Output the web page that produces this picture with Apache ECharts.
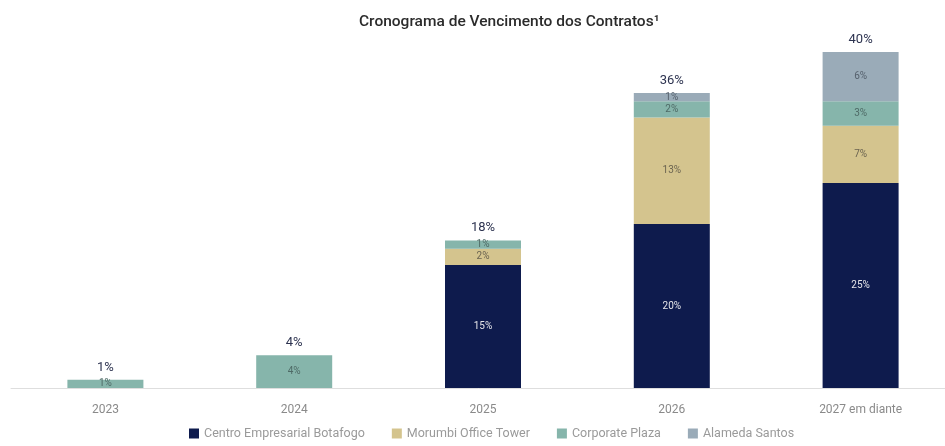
<!DOCTYPE html>
<html>
<head>
<meta charset="utf-8">
<script src="https://cdn.jsdelivr.net/npm/echarts@6/dist/echarts.min.js"></script>
<style>
html,body{margin:0;padding:0;background:#fff;}
#chart{width:945px;height:446px;}
</style>
</head>
<body>
<div id="chart"></div>
<script>
// dados do cronograma
var anos = ['2023', '2024', '2025', '2026', '2027 em diante'];
var botafogo = [0, 0, 15, 20, 25];
var morumbi = [0, 0, 2, 13, 7];
var corporate = [1, 4, 1, 2, 3];
var alameda = [0, 0, 0, 1, 6];
var totais = ['1%', '4%', '18%', '36%', '40%'];
var vazio = [0, 0, 0, 0, 0];

var cores = ['#0e1b4d', '#d4c48e', '#86b5ab', '#9aabb8'];

var chart = echarts.init(document.getElementById('chart'));

function serie(nome, dados, cor, corTexto) {
    return {
        name: nome,
        type: 'bar',
        stack: 'total',
        barWidth: 76,
        data: dados,
        itemStyle: {color: cor},
        label: {
            show: true,
            position: 'inside',
            fontSize: 10,
            color: corTexto,
            fontFamily: 'Roboto',
            formatter: function (p) {
                return p.value ? p.value + '%' : '';
            }
        }
    };
}

var option = {
    backgroundColor: '#fff',
    animation: false,
    title: {
        text: 'Cronograma de Vencimento dos Contratos¹',
        left: 354,
        top: 9,
        textStyle: {
            fontFamily: 'Roboto',
            fontSize: 15.5,
            fontWeight: 500,
            color: '#2b2b2b'
        }
    },
    legend: {
        data: ['Centro Empresarial Botafogo', 'Morumbi Office Tower', 'Corporate Plaza', 'Alameda Santos'],
        bottom: 1,
        left: 184,
        itemWidth: 10,
        itemHeight: 10,
        itemGap: 27,
        icon: 'rect',
        textStyle: {fontFamily: 'Roboto', fontSize: 12.5, color: '#9a9a9a'}
    },
    grid: {left: 11, width: 944, top: 52, bottom: 58, containLabel: false, outerBoundsMode: 'none'},
    xAxis: {
        type: 'category',
        data: anos,
        axisLine: {lineStyle: {color: '#dedede'}},
        axisTick: {show: false},
        axisLabel: {margin: 16, fontFamily: 'Roboto', fontSize: 12, color: '#8a8a8a'}
    },
    yAxis: {
        type: 'value',
        min: 0,
        max: 41,
        show: false,
        splitLine: {show: false}
    },
    series: [
        serie('Centro Empresarial Botafogo', botafogo, cores[0], '#e6e6ea'),
        serie('Morumbi Office Tower', morumbi, cores[1], '#6b6450'),
        serie('Corporate Plaza', corporate, cores[2], '#4e6a66'),
        serie('Alameda Santos', alameda, cores[3], '#55606c'),
        {
            name: 'total',
            type: 'bar',
            stack: 'total',
            barWidth: 76,
            data: vazio,
            itemStyle: {color: 'transparent'},
            label: {
                show: true,
                position: 'top',
                distance: 6,
                fontFamily: 'Roboto',
                fontSize: 13,
                color: '#2d3350',
                formatter: function (p) {
                    return totais[p.dataIndex];
                }
            }
        }
    ]
};
chart.setOption(option);
</script>
</body>
</html>
